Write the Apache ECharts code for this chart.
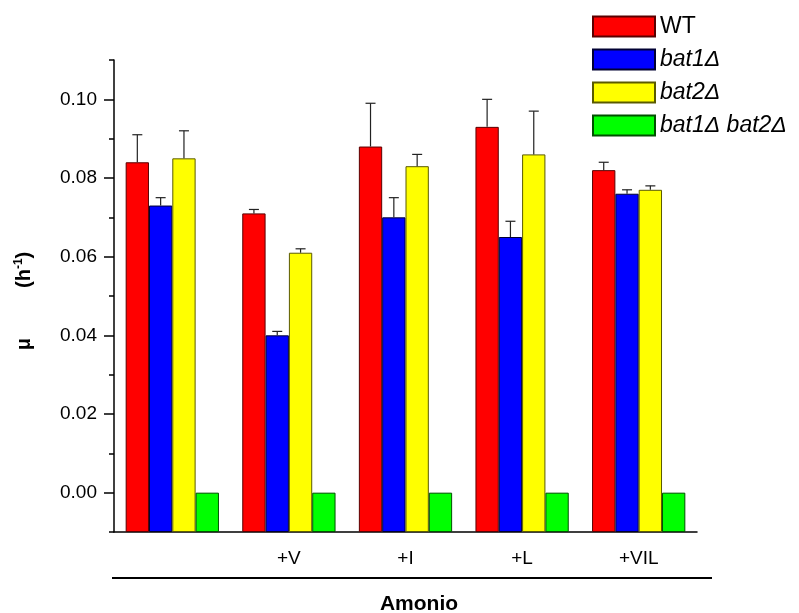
<!DOCTYPE html>
<html>
<head>
<meta charset="utf-8">
<script src="https://cdn.jsdelivr.net/npm/echarts@6/dist/echarts.min.js"></script>
<style>
  html, body { margin: 0; padding: 0; background: #fff; }
  #chart { width: 799px; height: 613px; }
</style>
</head>
<body>
<div id="chart"></div>
<script>
const categories = ['', '+V', '+I', '+L', '+VIL'];
const seriesNames = ['WT', 'bat1Δ', 'bat2Δ', 'bat1Δ bat2Δ'];
const wt = [0.084, 0.071, 0.088, 0.093, 0.082];
const bat1 = [0.073, 0.040, 0.070, 0.065, 0.076];
const bat2 = [0.085, 0.061, 0.083, 0.086, 0.077];
const bat12 = [0, 0, 0, 0, 0];
const wtErr = [0.007, 0.001, 0.011, 0.007, 0.002];
const bat1Err = [0.002, 0.001, 0.005, 0.004, 0.001];
const bat2Err = [0.007, 0.001, 0.003, 0.011, 0.001];
const bat12Err = [0, 0, 0, 0, 0];
const yMajor = [0, 0.02, 0.04, 0.06, 0.08, 0.10];
const yMinor = [-0.01, 0.01, 0.03, 0.05, 0.07, 0.09, 0.11];
const yMin = -0.01;
const yMax = 0.11;

// bars in the original start at the bottom of the axis, so shift everything up
const BASE = -yMin;
const shift = v => +(v + BASE).toFixed(4);

const FONT = "'Liberation Sans', Arial, sans-serif";
const colors = ['#ff0000', '#0000ff', '#ffff00', '#00ff00'];
const borders = ['#5a0000', '#000033', '#5a5a00', '#005000'];
const values = [wt, bat1, bat2, bat12];
const errors = [wtErr, bat1Err, bat2Err, bat12Err];

const errData = [];
values.forEach((arr, j) => {
  arr.forEach((v, i) => errData.push([i, j, v, errors[j][i]]));
});

const chart = echarts.init(document.getElementById('chart'));

const barSeries = values.map((arr, j) => ({
  name: seriesNames[j],
  type: 'bar',
  xAxisIndex: 0,
  yAxisIndex: 0,
  data: arr.map(shift),
  barGap: '0%',
  barCategoryGap: '20%',
  itemStyle: { color: colors[j], borderColor: borders[j], borderWidth: 1 },
  emphasis: { disabled: true }
}));

const errSeries = {
  type: 'custom',
  xAxisIndex: 0,
  yAxisIndex: 0,
  data: errData,
  encode: { x: 0, y: 2 },
  z: 5,
  renderItem: function (params, api) {
    const cat = api.value(0), j = api.value(1), v = api.value(2), e = api.value(3);
    if (!e) return;
    const p0 = api.coord([cat, v + BASE]);
    const p1 = api.coord([cat, v + e + BASE]);
    const bw = api.size([1, 0])[0] * 0.8 / 4;
    const x = p0[0] + (j - 1.5) * bw;
    const style = { stroke: '#222', lineWidth: 1.2 };
    return {
      type: 'group',
      children: [
        { type: 'line', shape: { x1: x, y1: p0[1], x2: x, y2: p1[1] }, style },
        { type: 'line', shape: { x1: x - 5, y1: p1[1], x2: x + 5, y2: p1[1] }, style }
      ]
    };
  }
};

const axisLine = { show: true, lineStyle: { color: '#000', width: 1.5 } };
const yFmt = v => (Math.round((v - BASE) * 100) / 100).toFixed(2);

chart.setOption({
  animation: false,
  backgroundColor: '#fff',
  grid: { left: 114, right: 102, top: 60, bottom: 81 },
  legend: {
    orient: 'vertical',
    left: 587,
    top: 10,
    itemWidth: 62,
    itemHeight: 20,
    itemGap: 10,
    icon: 'rect',
    textStyle: { fontFamily: FONT, fontSize: 23, color: '#000' },
    data: seriesNames.map((n, j) => ({
      name: n,
      textStyle: { fontStyle: j === 0 ? 'normal' : 'italic' }
    }))
  },
  xAxis: [
    {
      type: 'category',
      data: categories,
      axisLine: axisLine,
      axisTick: { alignWithLabel: true, length: 10, lineStyle: { color: '#000', width: 1.5 } },
      axisLabel: { margin: 17, fontFamily: FONT, fontSize: 19, color: '#000' },
      splitLine: { show: false }
    },
    {
      type: 'category',
      data: categories,
      position: 'bottom',
      axisLine: { show: false },
      axisTick: { length: 5, lineStyle: { color: '#000', width: 1.5 } },
      axisLabel: { show: false },
      splitLine: { show: false }
    }
  ],
  yAxis: [
    {
      type: 'value',
      min: 0,
      max: yMax + BASE,
      axisLine: axisLine,
      axisTick: { show: true, length: 10, customValues: yMajor.map(shift), lineStyle: { color: '#000', width: 1.5 } },
      axisLabel: { margin: 17, customValues: yMajor.map(shift), formatter: yFmt, fontFamily: FONT, fontSize: 19, color: '#000' },
      splitLine: { show: false },
      name: '{b|μ}{gap|}{b|(h}{sup|-1}{b|)}{pad|}',
      nameLocation: 'middle',
      nameRotate: 90,
      nameGap: 78,
      nameTextStyle: {
        rich: {
          b: { fontFamily: FONT, fontSize: 20, fontWeight: 'bold', color: '#000', lineHeight: 24 },
          gap: { width: 50 },
          pad: { width: 10 },
          sup: { fontFamily: FONT, fontSize: 12, fontWeight: 'bold', color: '#000', lineHeight: 24, padding: [0, 0, 10, 0] }
        }
      }
    },
    {
      type: 'value',
      min: 0,
      max: yMax + BASE,
      position: 'left',
      axisLine: { show: false },
      axisTick: { show: true, length: 5, customValues: yMinor.map(shift), lineStyle: { color: '#000', width: 1.5 } },
      axisLabel: { show: false },
      splitLine: { show: false }
    }
  ],
  graphic: [
    { type: 'line', shape: { x1: 112, y1: 578, x2: 712, y2: 578 }, style: { stroke: '#000', lineWidth: 2 } },
    { type: 'text', x: 419, y: 604, style: { text: 'Amonio', font: 'bold 21px ' + FONT, fill: '#000', align: 'center', verticalAlign: 'middle' } }
  ],
  series: barSeries.concat([errSeries])
});
</script>
</body>
</html>
